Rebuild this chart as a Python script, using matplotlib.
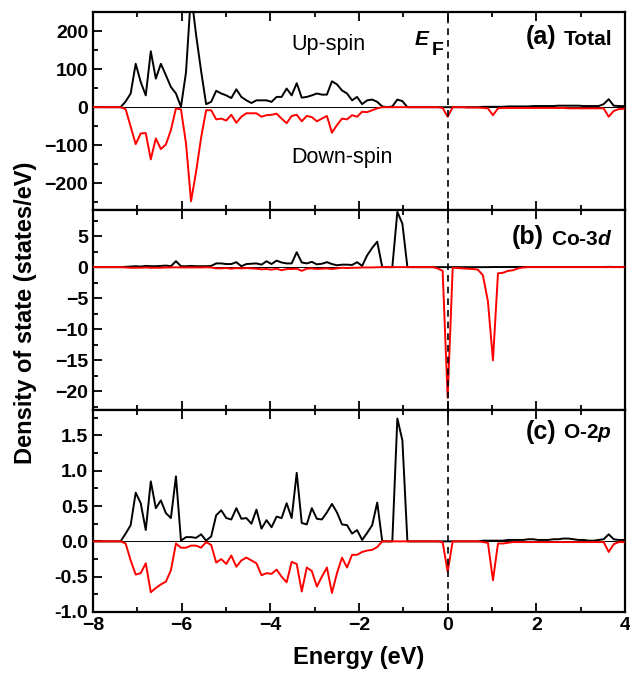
import matplotlib
matplotlib.use("Agg")
import matplotlib.pyplot as plt
import numpy as np
from matplotlib.ticker import MultipleLocator, FormatStrFormatter

plt.rcParams['font.family'] = ['Liberation Sans', 'DejaVu Sans']
plt.rcParams['font.weight'] = 'bold'
plt.rcParams['mathtext.fontset'] = 'custom'
plt.rcParams['mathtext.rm'] = 'Liberation Sans:bold'
plt.rcParams['mathtext.bf'] = 'Liberation Sans:bold'
plt.rcParams['mathtext.it'] = 'Liberation Sans:italic:bold'

# energy grid (eV), step 0.1135, index k = -71 .. 35
energy = np.arange(-71, 36) * 0.1135

# total DOS
total_up = [
    0, 0, 0, 0, 0, 0, 0, 15, 36, 114,
    66, 31, 147, 75, 114, 84, 53, 36, 1, 92,
    300, 190, 95, 8, 14, 43, 36, 31, 24, 47,
    27, 18, 11, 18, 18, 18, 14, 27, 27, 49,
    31, 63, 25, 27, 31, 36, 33, 33, 68, 60,
    44, 36, 18, 27, 8, 18, 20, 14, 2, 0,
    2, 20, 16, 0, 0, 0, 0, 0, 0, 0,
    0, 0, 0, 0, 0, 0, 0, 0, 1, 1,
    1, 1, 1, 2, 2, 2, 2, 2, 3, 3,
    3, 3, 3, 4, 4, 4, 4, 4, 3, 3,
    3, 3, 8, 21, 4, 3, 3,
]
total_dn = [
    0, 0, 0, 0, 0, 0, 0, -5, -51, -97,
    -69, -68, -137, -82, -110, -98, -60, -3, -6, -95,
    -247, -170, -80, -8, -8, -32, -30, -35, -20, -41,
    -25, -16, -16, -16, -25, -21, -20, -17, -30, -42,
    -23, -20, -37, -23, -26, -37, -30, -23, -67, -47,
    -30, -32, -21, -25, -12, -13, -8, -3, 0, 0,
    0, 0, 0, 0, 0, 0, 0, 0, 0, 0,
    -2, -25, 0, 0, 0, -1, -1, -1, -2, -3,
    -21, -3, -2, -2, -2, -2, -2, -2, -2, -2,
    -2, -2, -2, -2, -2, -3, -3, -3, -3, -3,
    -3, -3, -3, -25, -10, -5, -4,
]

# Co-3d partial DOS
co3d_up = [
    0, 0, 0, 0, 0, 0, 0, 0.05, 0.1, 0.15,
    0.1, 0.2, 0.15, 0.15, 0.2, 0.25, 0.15, 0.96, 0.15, 0.15,
    0.2, 0.15, 0.15, 0.15, 0.2, 0.6, 0.6, 0.5, 0.5, 0.8,
    0.15, 0.5, 0.55, 0.6, 0.4, 0.95, 0.5, 1.05, 0.75, 0.6,
    0.6, 2.4, 0.75, 0.6, 0.85, 0.45, 0.55, 0.8, 0.5, 0.3,
    0.4, 0.4, 0.35, 0.8, 0.2, 1.9, 3.1, 4.1, 0, 0,
    0, 8.9, 7.0, 0, 0, 0, 0, 0, 0, 0,
    0, 0, 0, 0, 0, 0, 0, 0, 0, 0,
    0.02, 0.02, 0.02, 0.03, 0.03, 0.03, 0.03, 0.03, 0.03, 0.03,
    0.03, 0.03, 0.03, 0.03, 0.03, 0.03, 0.03, 0.03, 0.03, 0.03,
    0.03, 0.03, 0.03, 0.05, 0.03, 0.03, 0.03,
]
co3d_dn = [
    0, 0, 0, 0, 0, 0, 0, -0.05, -0.1, -0.1,
    -0.1, -0.05, -0.1, -0.1, -0.1, -0.05, -0.05, -0.02, -0.05, -0.05,
    -0.05, -0.05, -0.05, -0.02, -0.05, -0.2, -0.2, -0.15, -0.25, -0.15,
    -0.2, -0.15, -0.2, -0.25, -0.35, -0.3, -0.4, -0.25, -0.5, -0.3,
    -0.3, -0.25, -0.6, -0.25, -0.2, -0.3, -0.25, -0.2, -0.3, -0.2,
    -0.1, -0.15, -0.1, -0.1, -0.05, -0.05, -0.05, -0.02, 0, 0,
    0, 0, 0, 0, 0, 0, 0, 0, 0, -0.2,
    -0.6, -21.0, -0.1, -0.15, -0.2, -0.25, -0.3, -0.4, -1.3, -5.5,
    -15.0, -1.0, -0.9, -0.6, -0.5, -0.2, -0.05, 0, 0, 0,
    0, 0, 0, 0, 0, 0, 0, 0, 0, 0,
    0, 0, 0, 0, 0, 0, 0,
]

# O-2p partial DOS
o2p_up = [
    0, 0, 0, 0, 0, 0, 0, 0.11, 0.23, 0.69,
    0.54, 0.16, 0.85, 0.47, 0.58, 0.40, 0.33, 0.92, 0.01, 0.06,
    0.06, 0.05, 0.10, 0.01, 0.07, 0.37, 0.44, 0.33, 0.31, 0.47,
    0.32, 0.33, 0.25, 0.45, 0.18, 0.30, 0.20, 0.35, 0.33, 0.54,
    0.33, 0.97, 0.26, 0.24, 0.47, 0.32, 0.31, 0.41, 0.53, 0.41,
    0.24, 0.23, 0.11, 0.16, 0.02, 0.12, 0.23, 0.55, 0, 0,
    0, 1.74, 1.43, 0, 0, 0, 0, 0, 0, 0,
    0, 0, 0, 0, 0, 0, 0, 0, 0.01, 0.01,
    0.01, 0.01, 0.01, 0.02, 0.02, 0.02, 0.02, 0.03, 0.03, 0.02,
    0.02, 0.02, 0.03, 0.03, 0.04, 0.04, 0.03, 0.02, 0.02, 0.01,
    0.01, 0.02, 0.03, 0.10, 0.03, 0.02, 0.02,
]
o2p_dn = [
    0, 0, 0, 0, 0, 0, 0, -0.03, -0.27, -0.47,
    -0.45, -0.31, -0.72, -0.66, -0.61, -0.57, -0.41, -0.03, -0.09, -0.09,
    -0.06, -0.06, -0.09, -0.01, -0.05, -0.30, -0.25, -0.32, -0.20, -0.36,
    -0.27, -0.23, -0.27, -0.31, -0.48, -0.45, -0.46, -0.40, -0.50, -0.58,
    -0.29, -0.32, -0.71, -0.37, -0.42, -0.64, -0.50, -0.37, -0.73, -0.45,
    -0.23, -0.37, -0.19, -0.19, -0.15, -0.13, -0.12, -0.08, 0, 0,
    0, 0, 0, 0, 0, 0, 0, 0, 0, 0,
    -0.01, -0.43, 0, 0, 0, 0, 0, 0, -0.01, -0.02,
    -0.55, -0.03, -0.03, -0.02, -0.01, -0.01, -0.01, -0.01, -0.01, -0.01,
    -0.01, -0.01, -0.01, -0.01, -0.01, -0.01, -0.01, -0.01, -0.01, -0.01,
    -0.01, -0.01, -0.01, -0.15, -0.04, -0.01, -0.01,
]

panels = [
    (total_up, total_dn, (-270, 250), [-200, -100, 0, 100, 200], 50),
    (co3d_up, co3d_dn, (-23, 9.2), [-20, -15, -10, -5, 0, 5], 2.5),
    (o2p_up, o2p_dn, (-1.0, 1.86), [-1.0, -0.5, 0.0, 0.5, 1.0, 1.5], 0.25),
]

fig = plt.figure(figsize=(6.3, 6.73), dpi=100)
left, width = 93 / 630, 532 / 630
boxes = [(12, 210), (210, 410), (410, 612)]
axes = []
for (top, bot), (up, dn, ylim, yticks, minor) in zip(boxes, panels):
    ax = fig.add_axes([left, 1 - bot / 673, width, (bot - top) / 673])
    ax.plot(energy, up, color='k', lw=1.4, zorder=3)
    ax.plot(energy, dn, color='#ff0000', lw=1.4, zorder=3)
    ax.axhline(0, color='k', lw=0.7, zorder=2)
    ax.axvline(0, color='k', lw=1.2, ls=(0, (4, 3)), zorder=4)
    ax.set_xlim(-8, 4)
    ax.set_ylim(*ylim)
    ax.set_yticks(yticks)
    ax.xaxis.set_major_locator(MultipleLocator(2))
    ax.xaxis.set_minor_locator(MultipleLocator(1))
    ax.yaxis.set_minor_locator(MultipleLocator(minor))
    ax.tick_params(which='both', direction='in', top=True, right=False,
                   width=1.3, labelsize=14)
    ax.tick_params(which='major', length=6.5)
    ax.tick_params(which='minor', length=3.5)
    for s in ax.spines.values():
        s.set_linewidth(1.6)
    axes.append(ax)

ax_a, ax_b, ax_c = axes
ax_a.tick_params(labelbottom=False)
ax_b.tick_params(labelbottom=False)
ax_c.yaxis.set_major_formatter(FormatStrFormatter('%.1f'))

ax_a.text(0.372, 0.808, 'Up-spin', transform=ax_a.transAxes,
          fontsize=15.5, fontweight='normal')
ax_a.text(0.372, 0.237, 'Down-spin', transform=ax_a.transAxes,
          fontsize=15.5, fontweight='normal')
ax_a.text(0.605, 0.833, 'E', transform=ax_a.transAxes, fontsize=15,
          fontweight='bold', fontstyle='italic')
ax_a.text(0.637, 0.783, 'F', transform=ax_a.transAxes, fontsize=14,
          fontweight='bold')

labels = [(ax_a, '(a)', 'Total', 0.833),
          (ax_b, '(b)', 'Co-3$\\mathit{d}$', 0.825),
          (ax_c, '(c)', 'O-2$\\mathit{p}$', 0.861)]
for ax, tag, name, yy in labels:
    t = ax.text(0.976, yy, name, transform=ax.transAxes, ha='right',
                va='baseline', fontsize=15, fontweight='bold')
    ax.annotate(tag, xy=(0, 0), xycoords=t, xytext=(-5, 0),
                textcoords='offset points', ha='right', va='bottom',
                fontsize=18, fontweight='bold')

ax_c.set_xlabel('Energy (eV)', fontsize=17, fontweight='bold', labelpad=9)
fig.text(0.041, 0.535, 'Density of state (states/eV)', rotation=90,
         ha='center', va='center', fontsize=17, fontweight='bold')

fig.savefig('out.png', dpi=100)
